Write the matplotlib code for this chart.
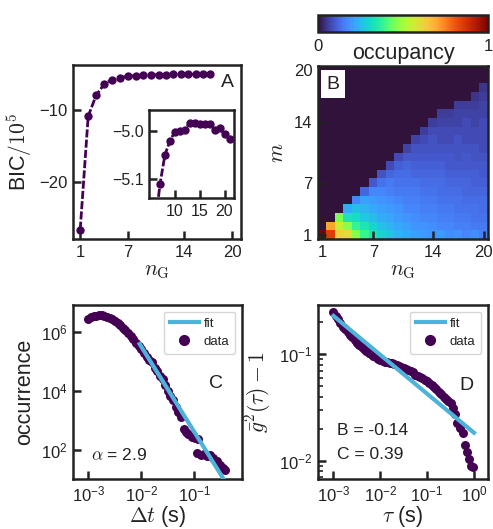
import numpy as np
import matplotlib
matplotlib.use('Agg')
import matplotlib.pyplot as plt
from matplotlib.ticker import LogLocator, NullLocator, NullFormatter, FixedLocator
from matplotlib.lines import Line2D

plt.rcParams['font.family'] = ['Liberation Sans', 'DejaVu Sans']
plt.rcParams['mathtext.fontset'] = 'cm'
plt.rcParams['axes.unicode_minus'] = True

DARK = '#222222'
PURPLE = '#440154'
CYAN = '#4db3d8'
TICK_FS = 12
LABEL_FS = 15.5
LETTER_FS = 14

# ---------------- data ----------------
# Panel A: BIC / 10^5 versus number of Gaussians
bic_n = [1, 2, 3, 4, 5, 6, 7, 8, 8.9, 9.8, 10.8, 11.7, 12.6, 13.6, 14.5, 15.5, 16.4, 17.2]
bic_val = [-26.7, -10.84, -7.91, -6.38, -5.73, -5.45, -5.26, -5.21, -5.15, -5.10,
           -5.06, -5.03, -5.01, -5.00, -5.00, -4.99, -4.99, -4.99]
inset_n = [6, 7, 8, 9, 10, 11, 12, 13, 14, 15, 16, 17, 18, 19, 20, 21]
inset_val = [-5.20, -5.111, -5.050, -5.021, -5.002, -5.000, -4.999, -4.983, -4.983,
             -4.985, -4.986, -4.986, -4.999, -4.995, -5.007, -5.016]

# Panel B: occupancy matrix, rows m = 1..20, columns n_G = 1..20
occ_rows = [
    [1.00, 0.85, 0.62, 0.60, 0.47, 0.39, 0.33, 0.30, 0.27, 0.24, 0.22, 0.21, 0.20, 0.19, 0.20, 0.18, 0.19, 0.17, 0.18, 0.16],
    [0.00, 0.70, 0.56, 0.47, 0.38, 0.34, 0.30, 0.26, 0.24, 0.22, 0.21, 0.19, 0.19, 0.18, 0.17, 0.17, 0.16, 0.16, 0.15, 0.15],
    [0.00, 0.00, 0.45, 0.33, 0.32, 0.28, 0.25, 0.23, 0.22, 0.20, 0.19, 0.18, 0.17, 0.17, 0.16, 0.16, 0.15, 0.15, 0.14, 0.14],
    [0.00, 0.00, 0.00, 0.23, 0.26, 0.24, 0.22, 0.21, 0.20, 0.19, 0.17, 0.17, 0.16, 0.16, 0.15, 0.15, 0.14, 0.14, 0.14, 0.13],
    [0.00, 0.00, 0.00, 0.00, 0.17, 0.21, 0.20, 0.19, 0.18, 0.17, 0.16, 0.16, 0.15, 0.15, 0.14, 0.14, 0.14, 0.13, 0.13, 0.13],
    [0.00, 0.00, 0.00, 0.00, 0.00, 0.12, 0.17, 0.17, 0.16, 0.15, 0.15, 0.15, 0.14, 0.14, 0.13, 0.13, 0.13, 0.12, 0.12, 0.12],
    [0.00, 0.00, 0.00, 0.00, 0.00, 0.00, 0.10, 0.14, 0.15, 0.14, 0.14, 0.14, 0.13, 0.13, 0.13, 0.12, 0.12, 0.12, 0.11, 0.11],
    [0.00, 0.00, 0.00, 0.00, 0.00, 0.00, 0.00, 0.09, 0.12, 0.13, 0.13, 0.12, 0.12, 0.12, 0.12, 0.11, 0.11, 0.11, 0.11, 0.10],
    [0.00, 0.00, 0.00, 0.00, 0.00, 0.00, 0.00, 0.00, 0.08, 0.11, 0.12, 0.11, 0.11, 0.11, 0.11, 0.10, 0.10, 0.10, 0.10, 0.10],
    [0.00, 0.00, 0.00, 0.00, 0.00, 0.00, 0.00, 0.00, 0.00, 0.08, 0.10, 0.10, 0.10, 0.10, 0.10, 0.10, 0.09, 0.10, 0.09, 0.09],
    [0.00, 0.00, 0.00, 0.00, 0.00, 0.00, 0.00, 0.00, 0.00, 0.00, 0.07, 0.09, 0.09, 0.09, 0.09, 0.09, 0.09, 0.09, 0.09, 0.08],
    [0.00, 0.00, 0.00, 0.00, 0.00, 0.00, 0.00, 0.00, 0.00, 0.00, 0.00, 0.07, 0.08, 0.09, 0.08, 0.08, 0.09, 0.08, 0.08, 0.08],
    [0.00, 0.00, 0.00, 0.00, 0.00, 0.00, 0.00, 0.00, 0.00, 0.00, 0.00, 0.00, 0.06, 0.08, 0.08, 0.08, 0.08, 0.08, 0.08, 0.08],
    [0.00, 0.00, 0.00, 0.00, 0.00, 0.00, 0.00, 0.00, 0.00, 0.00, 0.00, 0.00, 0.00, 0.06, 0.07, 0.07, 0.07, 0.08, 0.07, 0.08],
    [0.00, 0.00, 0.00, 0.00, 0.00, 0.00, 0.00, 0.00, 0.00, 0.00, 0.00, 0.00, 0.00, 0.00, 0.06, 0.06, 0.07, 0.07, 0.07, 0.07],
    [0.00, 0.00, 0.00, 0.00, 0.00, 0.00, 0.00, 0.00, 0.00, 0.00, 0.00, 0.00, 0.00, 0.00, 0.00, 0.00, 0.06, 0.06, 0.06, 0.07],
    [0.00, 0.00, 0.00, 0.00, 0.00, 0.00, 0.00, 0.00, 0.00, 0.00, 0.00, 0.00, 0.00, 0.00, 0.00, 0.00, 0.00, 0.00, 0.05, 0.06],
    [0.00, 0.00, 0.00, 0.00, 0.00, 0.00, 0.00, 0.00, 0.00, 0.00, 0.00, 0.00, 0.00, 0.00, 0.00, 0.00, 0.00, 0.00, 0.00, 0.05],
    [0.00] * 20,
    [0.00] * 20,
]

# Panel C: inter-event time distribution (log10 values)
c_dt_exp = [-3.00, -2.95, -2.90, -2.85, -2.80, -2.75, -2.70, -2.65, -2.60, -2.55, -2.50,
            -2.45, -2.40, -2.35, -2.30, -2.25, -2.20, -2.15, -2.10, -2.05, -2.00, -1.95,
            -1.90, -1.85, -1.80, -1.75, -1.70, -1.65, -1.60, -1.55, -1.50, -1.45, -1.40,
            -1.35, -1.30, -1.25, -1.20, -1.16, -1.12, -1.05, -0.98, -0.93, -0.95, -0.88,
            -0.82, -0.76, -0.70, -0.64, -0.58, -0.52, -0.46, -0.42]
c_cnt_exp = [6.47, 6.52, 6.55, 6.57, 6.58, 6.58, 6.56, 6.53, 6.49, 6.44, 6.38,
             6.31, 6.24, 6.16, 6.07, 5.97, 5.87, 5.76, 5.65, 5.55, 5.42, 5.30,
             5.17, 5.05, 4.98, 4.80, 4.68, 4.52, 4.40, 4.22, 4.02, 3.82, 3.70,
             3.45, 3.28, 3.12, 2.72, 2.62, 2.55, 2.45, 2.42, 2.36, 1.88, 1.82,
             1.86, 1.80, 1.83, 1.72, 1.62, 1.48, 1.38, 1.30]
c_alpha = 2.9
c_fit_ref = 0.01
c_fit_amp = 10 ** 5.51
c_fit_range = [0.0093, 0.5]

# Panel D: intensity correlation (log10 values)
d_tau_exp = [-3.00, -2.95, -2.90, -2.85, -2.80, -2.75, -2.70, -2.65, -2.60, -2.55, -2.50,
             -2.45, -2.40, -2.35, -2.30, -2.25, -2.20, -2.15, -2.10, -2.05, -2.00, -1.95,
             -1.90, -1.85, -1.80, -1.75, -1.70, -1.65, -1.60, -1.55, -1.50, -1.45, -1.40,
             -1.35, -1.30, -1.25, -1.20, -1.15, -1.10, -1.05, -1.00, -0.95, -0.90, -0.85,
             -0.80, -0.75, -0.70, -0.65, -0.60, -0.55, -0.50, -0.45, -0.40, -0.36, -0.30,
             -0.24, -0.20, -0.14, -0.10, -0.06, -0.01]
d_g_exp = [-0.60, -0.64, -0.67, -0.71, -0.74, -0.76, -0.79, -0.82, -0.84, -0.87, -0.89,
           -0.91, -0.93, -0.95, -0.97, -0.99, -1.00, -1.02, -1.03, -1.04, -1.05, -1.06,
           -1.07, -1.07, -1.08, -1.08, -1.09, -1.10, -1.11, -1.12, -1.13, -1.14, -1.15,
           -1.16, -1.17, -1.19, -1.20, -1.21, -1.22, -1.24, -1.25, -1.27, -1.29, -1.31,
           -1.33, -1.35, -1.37, -1.40, -1.42, -1.44, -1.46, -1.50, -1.56, -1.64, -1.69,
           -1.74, -1.85, -1.92, -1.98, -2.05, -2.06]
d_fit_slope = -0.365
d_fit_amp = 10 ** -0.64
d_fit_ref = 1e-3
d_fit_range = [1e-3, 1.0]

# ---------------- figure ----------------
fig = plt.figure(figsize=(4.93, 5.29), dpi=100)

def style(ax, fs=TICK_FS):
    for s in ax.spines.values():
        s.set_linewidth(1.8)
        s.set_color(DARK)
    ax.tick_params(which='major', direction='in', length=6, width=1.8,
                   color=DARK, labelcolor=DARK, labelsize=fs, pad=4)
    ax.tick_params(which='minor', direction='in', length=3.5, width=1.2, color=DARK)

def add_legend(ax):
    h = [Line2D([], [], color=CYAN, lw=3),
         Line2D([], [], color=PURPLE, marker='o', ls='none', ms=7)]
    leg = ax.legend(h, ['fit', 'data'], loc='upper right', fontsize=9.5,
                    handlelength=2.2, handletextpad=0.4, borderpad=0.45,
                    labelspacing=0.45, frameon=True)
    leg.get_frame().set_edgecolor('#cccccc')
    for t in leg.get_texts():
        t.set_color(DARK)

# Panel A
axA = fig.add_axes([73/493, 1-239/529, 168/493, 174/529])
axA.plot(bic_n, bic_val, color=PURPLE, lw=2.0, ls=(0, (2.9, 0.8)),
         marker='o', ms=5)
axA.set_xlim(0.1, 21.1)
axA.set_ylim(-28.0, -3.7)
axA.set_xticks([1, 7, 14, 20])
axA.set_yticks([-10, -20])
style(axA)
axA.set_xlabel(r'$n_{\rm G}$', fontsize=LABEL_FS, color=DARK, labelpad=0)
axA.set_ylabel(r'BIC$/10^5$', fontsize=LABEL_FS, color=DARK)
axA.text(0.92, 0.90, 'A', transform=axA.transAxes, fontsize=LETTER_FS,
         ha='center', va='center', color=DARK)

axI = fig.add_axes([149/493, 1-198/529, 85/493, 88/529])
axI.plot(inset_n, inset_val, color=PURPLE, lw=2.0, ls=(0, (2.9, 0.8)),
         marker='o', ms=5)
axI.set_xlim(4.8, 21.9)
axI.set_ylim(-5.139, -4.957)
axI.set_xticks([10, 15, 20])
axI.set_yticks([-5.0, -5.1])
axI.set_yticklabels(['\u22125.0', '\u22125.1'])
style(axI, fs=11.5)

# Panel B
axB = fig.add_axes([318/493, 1-239/529, 170/493, 173/529])
occ = np.array(occ_rows)
im = axB.imshow(occ, cmap='turbo', vmin=0, vmax=1, origin='lower',
                extent=(0.5, 20.5, 0.5, 20.5), aspect='auto', interpolation='nearest')
axB.set_xticks([1, 7, 14, 20])
axB.set_yticks([1, 7, 14, 20])
style(axB)
axB.set_xlabel(r'$n_{\rm G}$', fontsize=LABEL_FS, color=DARK, labelpad=0)
axB.set_ylabel(r'$m$', fontsize=LABEL_FS, color=DARK)
axB.text(0.088, 0.895, 'B', transform=axB.transAxes, fontsize=LETTER_FS,
         ha='center', va='center', color=DARK,
         bbox=dict(facecolor='white', edgecolor='none', pad=4))

cax = fig.add_axes([318/493, 1-32/529, 170/493, 17/529])
cb = fig.colorbar(im, cax=cax, orientation='horizontal')
cb.set_ticks([0, 1])
cb.outline.set_linewidth(1.8)
cb.outline.set_edgecolor(DARK)
cax.tick_params(length=0, labelsize=TICK_FS, labelcolor=DARK, pad=5)
cax.set_xlabel('occupancy', fontsize=LABEL_FS, color=DARK, labelpad=-8)

# Panel C
axC = fig.add_axes([73/493, 1-479/529, 169/493, 174/529])
c_dt = 10 ** np.array(c_dt_exp)
c_cnt = 10 ** np.array(c_cnt_exp)
axC.scatter(c_dt, c_cnt, s=42, color=PURPLE, lw=0, zorder=2)
xf = np.array(c_fit_range)
axC.plot(xf, c_fit_amp * (xf / c_fit_ref) ** (-c_alpha), color=CYAN, lw=3, zorder=3)
axC.set_xscale('log')
axC.set_yscale('log')
axC.set_xlim(10 ** -3.29, 10 ** -0.1)
axC.set_ylim(10 ** 1.01, 10 ** 6.93)
axC.xaxis.set_major_locator(FixedLocator([1e-3, 1e-2, 1e-1]))
axC.yaxis.set_major_locator(FixedLocator([1e2, 1e4, 1e6]))
axC.xaxis.set_minor_locator(NullLocator())
axC.yaxis.set_minor_locator(NullLocator())
style(axC)
axC.set_xlabel(r'$\Delta t$ (s)', fontsize=LABEL_FS, color=DARK, labelpad=0)
axC.set_ylabel('occurrence', fontsize=LABEL_FS, color=DARK)
axC.text(0.846, 0.55, 'C', transform=axC.transAxes, fontsize=LETTER_FS,
         ha='center', va='center', color=DARK)
axC.text(0.107, 0.138, r'$\alpha$ = 2.9', transform=axC.transAxes, fontsize=12.5,
         ha='left', va='center', color=DARK)
add_legend(axC)

# Panel D
axD = fig.add_axes([318/493, 1-479/529, 170/493, 174/529])
d_tau = 10 ** np.array(d_tau_exp)
d_g = 10 ** np.array(d_g_exp)
axD.scatter(d_tau, d_g, s=42, color=PURPLE, lw=0, zorder=2)
tf = np.array(d_fit_range)
axD.plot(tf, d_fit_amp * (tf / d_fit_ref) ** d_fit_slope, color=CYAN, lw=3, zorder=3)
axD.set_xscale('log')
axD.set_yscale('log')
axD.set_xlim(10 ** -3.33, 10 ** 0.30)
axD.set_ylim(10 ** -2.169, 10 ** -0.538)
axD.xaxis.set_major_locator(FixedLocator([1e-3, 1e-2, 1e-1, 1e0]))
axD.xaxis.set_minor_locator(NullLocator())
axD.yaxis.set_major_locator(FixedLocator([1e-2, 1e-1]))
axD.yaxis.set_minor_locator(LogLocator(base=10, subs=np.arange(2, 10)))
axD.yaxis.set_minor_formatter(NullFormatter())
style(axD)
axD.set_xlabel(r'$\tau$ (s)', fontsize=LABEL_FS, color=DARK, labelpad=0)
axD.set_ylabel(r'$\bar{g}^2(\tau) - 1$', fontsize=LABEL_FS, color=DARK)
axD.text(0.876, 0.54, 'D', transform=axD.transAxes, fontsize=LETTER_FS,
         ha='center', va='center', color=DARK)
axD.text(0.11, 0.28, 'B = -0.14', transform=axD.transAxes, fontsize=12.5,
         ha='left', va='center', color=DARK)
axD.text(0.11, 0.138, 'C = 0.39', transform=axD.transAxes, fontsize=12.5,
         ha='left', va='center', color=DARK)
add_legend(axD)

fig.savefig('out.png', dpi=100)
